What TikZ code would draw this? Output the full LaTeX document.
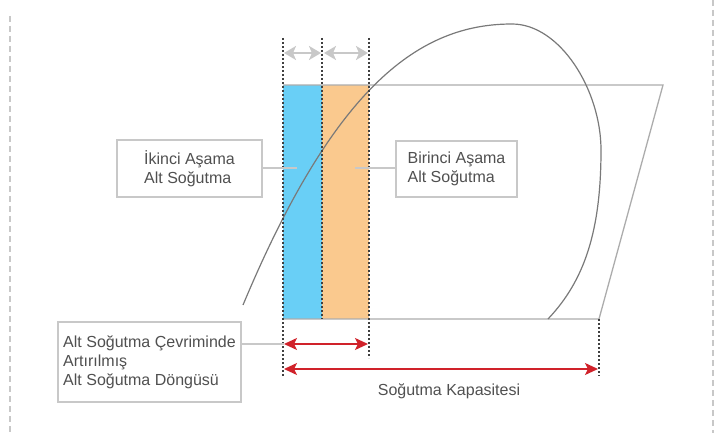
\documentclass[tikz,border=0pt]{standalone}
\usepackage{fontspec}
\setmainfont{Liberation Sans}
\usetikzlibrary{arrows.meta,positioning}
\definecolor{stageblue}{RGB}{105,207,246}
\definecolor{stageorange}{RGB}{250,201,142}
\definecolor{boxgray}{RGB}{200,200,200}
\definecolor{textgray}{RGB}{80,80,80}
\definecolor{capred}{RGB}{208,34,42}
\tikzset{
	labelbox/.style={draw=boxgray, line width=1.2pt, fill=white, align=left, text=textgray, font=\fontsize{16}{19}\selectfont},
	plain/.style={text=textgray, font=\fontsize{16}{19}\selectfont},
	outline/.style={draw=gray!65, line width=1.3pt},
	cycleline/.style={draw=gray!95!black, line width=1.2pt},
	guide/.style={draw=black!75, line width=1.2pt, dash pattern=on 2pt off 2pt},
	frame/.style={draw=boxgray, line width=1.5pt, dash pattern=on 6pt off 4pt},
	link/.style={draw=boxgray, line width=1.6pt},
	stagearrow/.style={{Stealth[length=12pt, width=14pt, inset=3pt]}-{Stealth[length=12pt, width=14pt, inset=3pt]}, draw=boxgray, line width=2pt},
	caparrow/.style={{Stealth[length=13pt, width=12pt, inset=3pt]}-{Stealth[length=13pt, width=12pt, inset=3pt]}, draw=capred, line width=1.5pt}
}

\begin{document}
\begin{tikzpicture}[x=1pt, y=-1pt]
	\useasboundingbox (0,0) rectangle (718,433);
	% page frame
	\draw[frame] (10,16) -- (10,433);
	\draw[frame] (713,0) -- (713,433);
	% stages
	\fill[stageblue] (283,85) rectangle (322,319);
	\fill[stageorange] (322,85) rectangle (369,319);
	\draw[outline] (283,85) -- (663,85) -- (599,319) -- (283,319);
	\draw[cycleline] (243,305) .. controls (335,85) and (420,24) .. (512,24)
		.. controls (560,24) and (601,90) .. (601,150)
		.. controls (601,230) and (585,280) .. (548,319);
	% guides
	\coordinate (g0) at (283,38);
	\coordinate (g1) at (322,38);
	\coordinate (g2) at (369,38);
	\coordinate (g0b) at (283,376);
	\coordinate (g1b) at (322,319);
	\coordinate (g2b) at (369,358);
	\coordinate (g3) at (599,319);
	\coordinate (g3b) at (599,376);
	\draw[guide] (g0) -- (g0b);
	\draw[guide] (g1) -- (g1b);
	\draw[guide] (g2) -- (g2b);
	\draw[guide] (g3) -- (g3b);
	% stage widths
	\coordinate (a0) at (284,53);
	\coordinate (a1) at (321,53);
	\coordinate (a2) at (324,53);
	\coordinate (a3) at (368,53);
	\draw[stagearrow] (a0) -- (a1);
	\draw[stagearrow] (a2) -- (a3);
	% capacities
	\coordinate (sub0) at (284,344);
	\coordinate (sub1) at (368,344);
	\coordinate (cap0) at (284,369);
	\coordinate (cap1) at (598,369);
	\draw[caparrow] (sub0) -- (sub1);
	\draw[caparrow] (cap0) -- (cap1);
	% labels
	\node[labelbox, minimum width=145, minimum height=57] (second) at (189.5,168.5) {İkinci Aşama\\Alt Soğutma};
	\node[labelbox, minimum width=121, minimum height=56] (first) at (456.5,169) {Birinci Aşama\\Alt Soğutma};
	\node[labelbox, minimum width=183, minimum height=80] (gain) at (149.5,362) {Alt Soğutma Çevriminde\\Artırılmış\\Alt Soğutma Döngüsü};
	\node[plain] (capacity) at (449,391) {Soğutma Kapasitesi};
	\coordinate (p2) at (297,168);
	\coordinate (p1) at (355,168);
	\draw[link] (second.east |- p2) -- (p2);
	\draw[link] (p1) -- (first.west |- p1);
	\draw[link] (gain.east |- sub0) -- (sub0);
\end{tikzpicture}
\end{document}
